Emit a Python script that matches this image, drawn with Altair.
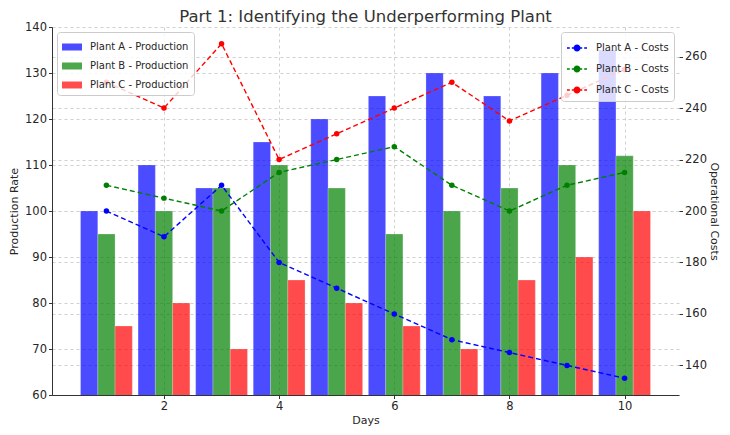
import altair as alt
import pandas as pd

days = [1, 2, 3, 4, 5, 6, 7, 8, 9, 10]
prod_a = [100, 110, 105, 115, 120, 125, 130, 125, 130, 135]
prod_b = [95, 100, 105, 110, 105, 95, 100, 105, 110, 112]
prod_c = [75, 80, 70, 85, 80, 75, 70, 85, 90, 100]
cost_a = [200, 190, 210, 180, 170, 160, 150, 145, 140, 135]
cost_b = [210, 205, 200, 215, 220, 225, 210, 200, 210, 215]
cost_c = [250, 240, 265, 220, 230, 240, 250, 235, 245, 255]

prod_names = ["Plant A - Production", "Plant B - Production", "Plant C - Production"]
cost_names = ["Plant A - Costs", "Plant B - Costs", "Plant C - Costs"]
bar_colors = ["#0000ff", "#008000", "#ff0000"]
line_colors = ["#0000ff", "#008000", "#ff0000"]

rows = []
for i, (name, vals) in enumerate(zip(prod_names, [prod_a, prod_b, prod_c])):
    for d, v in zip(days, vals):
        rows.append({"day": d, "series": name, "idx": i, "value": v})
prod_df = pd.DataFrame(rows)

rows = []
for name, vals in zip(cost_names, [cost_a, cost_b, cost_c]):
    for d, v in zip(days, vals):
        rows.append({"day": d, "cseries": name, "cost": v})
cost_df = pd.DataFrame(rows)

FONT = "DejaVu Sans"
GRID_DASH = [3, 3]
TXT = "#262626"

xscale = alt.Scale(domain=[0.055, 10.945], nice=False, zero=False)
xaxis = alt.Axis(values=[2, 4, 6, 8, 10], format="d", title="Days", grid=True,
                 gridDash=GRID_DASH, gridColor="#d0d0d0", domainColor="#333333",
                 tickColor="#333333", labelFontSize=11.5, titleFontSize=11,
                 labelColor=TXT, titleColor=TXT, titleFontWeight="normal",
                 tickSize=3.5, labelPadding=2, titlePadding=2)

bars = alt.Chart(prod_df).mark_bar(opacity=0.7, clip=True, stroke="white",
                                    strokeWidth=0.4, strokeOpacity=0.6).transform_calculate(
    x0="datum.day - 0.45 + datum.idx * 0.3",
    x1="datum.day - 0.15 + datum.idx * 0.3",
).encode(
    x=alt.X("x0:Q", scale=xscale, axis=xaxis),
    x2="x1:Q",
    y=alt.Y("value:Q", scale=alt.Scale(domain=[60, 140], nice=False, zero=False),
            axis=alt.Axis(values=[60, 70, 80, 90, 100, 110, 120, 130, 140],
                          title="Production Rate", grid=True, gridDash=GRID_DASH,
                          gridColor="#d0d0d0", domainColor="#333333", tickColor="#333333",
                          labelFontSize=11.5, titleFontSize=11, labelColor=TXT,
                          titleColor=TXT, titleFontWeight="normal", tickSize=3.5,
                          labelPadding=2, titlePadding=5)),
    y2=alt.datum(0),
    fill=alt.Fill("series:N", scale=alt.Scale(domain=prod_names, range=bar_colors),
                  legend=alt.Legend(title=None, orient="top-left", offset=5,
                                    symbolType="M-1,-0.35H1V0.35H-1Z", symbolSize=400,
                                    symbolOpacity=0.7, symbolStrokeWidth=0,
                                    labelFontSize=10, labelColor=TXT,
                                    rowPadding=4, padding=5, fillColor="rgba(255,255,255,0.8)",
                                    strokeColor="#cccccc", cornerRadius=3,
                                    labelOffset=8)),
)

yscale_c = alt.Scale(domain=[128.5, 271.5], nice=False, zero=False)
yaxis_c = alt.Axis(orient="right", values=[140, 160, 180, 200, 220, 240, 260],
                   title="Operational Costs", grid=True, gridDash=GRID_DASH,
                   gridColor="#d0d0d0", domain=False, tickColor="#333333",
                   labelFontSize=11.5, titleFontSize=11, labelColor=TXT,
                   titleColor=TXT, titleFontWeight="normal", tickSize=3.5,
                   labelPadding=2, titlePadding=2)

costs = alt.Chart(cost_df).mark_line(
    strokeDash=[5, 3], strokeWidth=1.4,
    point=alt.OverlayMarkDef(filled=True, size=30, opacity=1, strokeDash=[1, 0]),
).encode(
    x=alt.X("day:Q", scale=xscale),
    y=alt.Y("cost:Q", scale=yscale_c, axis=yaxis_c),
    color=alt.Color("cseries:N", scale=alt.Scale(domain=cost_names, range=line_colors),
                    legend=alt.Legend(title=None, orient="top-right", offset=5,
                                      symbolType="M-1,0H-0.72M-0.52,0H-0.3M0.3,0H0.52M0.72,0H1M0.28,0A0.28,0.28 0 1,1 -0.28,0A0.28,0.28 0 1,1 0.28,0",
                                      symbolSize=400, symbolStrokeWidth=1.4,
                                      labelFontSize=10, labelColor=TXT,
                                      rowPadding=4, padding=5, fillColor="rgba(255,255,255,0.8)",
                                      strokeColor="#cccccc", cornerRadius=3,
                                      labelOffset=8)),
)

chart = alt.layer(bars, costs).resolve_scale(
    y="independent"
).properties(
    width=627, height=368,
    padding={"left": 44, "top": 19, "right": 43, "bottom": 32},
    autosize=alt.AutoSizeParams(type="none"),
    title=alt.Title("Part 1: Identifying the Underperforming Plant", fontSize=16.5,
                    font=FONT, fontWeight="normal", color="#333333", offset=-4),
).configure(font=FONT).configure_view(stroke=None)

chart.save("out.html", embed_options={"renderer": "svg", "actions": False})
